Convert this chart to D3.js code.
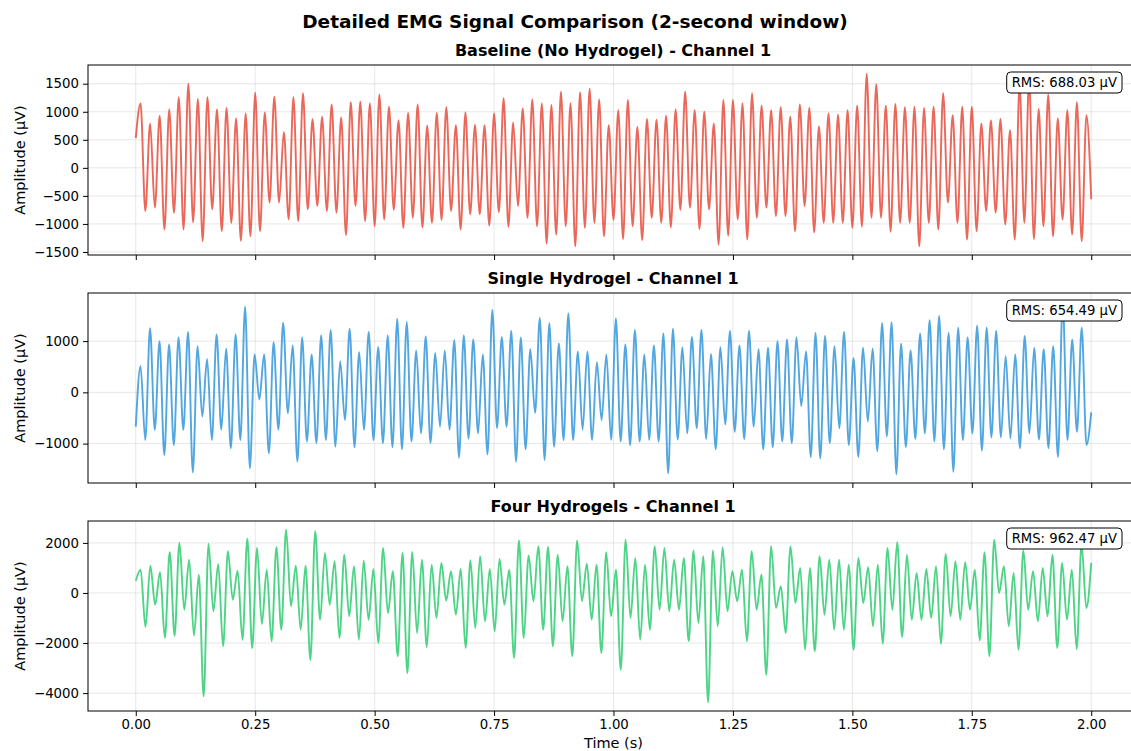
<!DOCTYPE html>
<html>
<head>
<meta charset="utf-8">
<script src="https://cdn.jsdelivr.net/npm/d3@7"></script>
<style>
  body { margin: 0; background: #fff; }
  text { font-family: "DejaVu Sans", sans-serif; }
</style>
</head>
<body>
<div id="chart"></div>
<script>
// Signal extrema (µV), evenly spaced over the 2 s window
const baseline = [530,
  1150,-770, 790,-710, 930,-1100, 1040,-800, 1260,-1100, 1500,-970, 1230,-1310, 1260,-740,
  1040,-1130, 1070,-980, 880,-1300, 970,-1220, 1340,-1130, 990,-620, 1270,-620, 640,-920,
  1260,-950, 1330,-740, 870,-680, 910,-770, 1130,-800, 900,-1200, 1170,-680, 1180,-950, 1150,-1040,
  1310,-920, 1090,-750, 850,-1070, 980,-890, 1130,-1060, 750,-980, 980,-930, 1080,-770,
  760,-1100, 990,-830, 770,-830, 760,-1030, 970,-790, 1240,-1050, 810,-680, 1060,-890,
  1220,-1040, 1150,-1350, 1120,-1190, 1360,-1040, 1150,-1400, 1350,-1070, 1410,-980, 1220,-1220, 760,-930,
  1030,-1270, 1210,-1040, 730,-1290, 870,-890, 860,-980, 930,-1060, 1040,-750, 1360,-710,
  1030,-1090, 1000,-740, 790,-1370, 1210,-1210, 1210,-920, 1150,-1280, 1330,-890, 1110,-710,
  1030,-860, 1080,-860, 910,-1130, 1130,-680, 1070,-1150, 740,-980, 970,-980, 950,-980, 1030,-1070,
  1110,-1050, 1680,-890, 1490,-890, 1110,-1140, 1140,-980, 1080,-980, 1090,-1400, 1070,-980,
  1090,-1100, 1330,-620, 940,-980, 1090,-1280, 1090,-1130, 790,-770, 850,-800, 870,-1010,
  670,-1280, 1480,-980, 1570,-1270, 1050,-1040, 1310,-1220, 880,-920, 1030,-1190, 1170,-1310, 940,-560];

const singleHydrogel = [-670,
  510,-930, 1250,-730, 1000,-1220, 935,-1030, 1070,-730, 1180,-1560, 900,-470, 650,-930,
  1130,-730, 850,-1090, 1130,-930, 1670,-1480, 740,-140, 740,-1190, 980,-730, 1360,-410,
  915,-1350, 1070,-960, 740,-990, 1110,-930, 1220,-1060, 610,-540, 1240,-1070, 785,-730, 1180,-930,
  880,-990, 1110,-1070, 1430,-1110, 1370,-960, 820,-800, 1090,-990, 770,-670, 820,-730,
  1020,-1270, 1110,-900, 1030,-800, 740,-1210, 1610,-700, 1080,-670, 1200,-1350, 1070,-1110,
  840,-400, 1450,-1320, 1350,-1060, 955,-930, 1540,-930, 800,-730, 800,-930, 590,-540, 740,-930,
  1440,-960, 935,-1030, 1220,-960, 740,-930, 915,-960, 1150,-1580, 1240,-920, 880,-800,
  1080,-700, 1220,-910, 750,-1110, 880,-630, 1200,-770, 915,-910, 1200,-670, 840,-1110,
  870,-1070, 1000,-960, 1030,-990, 1070,-270, 800,-1260, 1160,-1290, 1100,-990, 900,-700, 1180,-1030,
  670,-1260, 870,-570, 850,-1150, 1350,-860, 1370,-1600, 950,-1070, 820,-910, 1150,-800,
  1410,-960, 1490,-1110, 1160,-1550, 1260,-930, 1070,-800, 1300,-1140, 1260,-880, 1200,-880,
  710,-900, 740,-1090, 1100,-800, 870,-920, 840,-1090, 900,-1260, 1770,-930, 1030,-770, 1260,-1030, -390];

const fourHydrogels = [490,
  930,-1360, 1090,-470, 830,-1800, 1640,-1710, 2000,-670, 1330,-1700, 730,-4130, 1970,-730,
  1160,-2130, 1670,-270, 890,-1870, 2170,-2200, 1800,-1240, 930,-1930, 1840,-1470, 2530,-530,
  1090,-1470, 1090,-2670, 2470,-1070, 1600,-470, 1270,-1800, 1530,-930, 1070,-1870, 1290,-1070, 960,-2000,
  1800,-800, 870,-2530, 1600,-3200, 1640,-1600, 1330,-2160, 1130,-1000, 1200,-300, 870,-870,
  960,-2200, 1310,-1400, 1470,-1130, 960,-1530, 1360,-470, 930,-2600, 2100,-1800, 1500,-330,
  1870,-1470, 1840,-2130, 1530,-1130, 1070,-2530, 2100,-330, 1170,-1070, 1130,-2400, 1630,-930, 930,-3070,
  2130,-1000, 1400,-1870, 1130,-1470, 1870,-670, 1800,-730, 1330,-670, 1400,-1930, 1700,-1200,
  1470,-4370, 1700,-1330, 1830,-730, 870,-330, 930,-1930, 1670,-670, 730,-3270, 1870,-600,
  270,-1600, 1870,-400, 1000,-2270, 1000,-2330, 1470,-870, 1330,-1470, 1330,-1470, 1130,-2270,
  1400,-400, 1030,-1330, 1130,-2030, 1800,-670, 2030,-1760, 1530,-1070, 800,-1070, 960,-1000,
  1070,-2030, 1560,-930, 1270,-1070, 1230,-670, 930,-1900, 1630,-2530, 2130,0, 1070,-1330,
  800,-2270, 1700,-670, 870,-1130, 1000,-930, 1530,-2200, 1200,-1070, 930,-2240, 1930,-600, 1200];

const panelTitles = ["Baseline (No Hydrogel) - Channel 1", "Single Hydrogel - Channel 1", "Four Hydrogels - Channel 1"];
const rmsLabels = ["RMS: 688.03 µV", "RMS: 654.49 µV", "RMS: 962.47 µV"];
const yTickSets = [
  [-1500, -1000, -500, 0, 500, 1000, 1500],
  [-1000, 0, 1000],
  [-4000, -2000, 0, 2000]
];
const xTicks = [0, 0.25, 0.5, 0.75, 1.0, 1.25, 1.5, 1.75, 2.0];
const duration = 2;

const signals = [baseline, singleHydrogel, fourHydrogels];
const colors = ["#e74c3c", "#3498db", "#2ecc71"];

// Figure layout
const W = 1131, H = 751;
const left = 88, plotW = 1051;
const panelTops = [65, 293, 521];
const plotH = 190;

const svg = d3.select("#chart")
  .append("svg")
  .attr("width", W)
  .attr("height", H);

svg.append("text")
  .attr("x", 575)
  .attr("y", 28)
  .attr("text-anchor", "middle")
  .style("font-size", "18.5px")
  .style("font-weight", "bold")
  .text("Detailed EMG Signal Comparison (2-second window)");

const x = d3.scaleLinear()
  .domain([-0.1, 2.1])
  .range([0, plotW]);

const minusFmt = d => d < 0 ? "\u2212" + Math.abs(d) : String(d);

signals.forEach((values, p) => {
  const data = values.map((v, i) => ({ t: i * duration / (values.length - 1), v: v }));
  const lo = d3.min(values), hi = d3.max(values);
  const pad = (hi - lo) * 0.05;

  const y = d3.scaleLinear()
    .domain([lo - pad, hi + pad])
    .range([plotH, 0]);

  const g = svg.append("g")
    .attr("transform", `translate(${left},${panelTops[p]})`);

  const clipId = "clip" + p;
  g.append("clipPath").attr("id", clipId)
    .append("rect").attr("width", plotW).attr("height", plotH);

  // Grid
  g.append("g")
    .selectAll("line.vg")
    .data(xTicks)
    .enter()
    .append("line")
    .attr("x1", d => x(d)).attr("x2", d => x(d))
    .attr("y1", 0).attr("y2", plotH)
    .attr("stroke", "#b0b0b0").attr("stroke-opacity", 0.3).attr("stroke-width", 1);

  g.append("g")
    .selectAll("line.hg")
    .data(yTickSets[p])
    .enter()
    .append("line")
    .attr("x1", 0).attr("x2", plotW)
    .attr("y1", d => y(d)).attr("y2", d => y(d))
    .attr("stroke", "#b0b0b0").attr("stroke-opacity", 0.3).attr("stroke-width", 1);

  // Signal
  const line = d3.line()
    .x(d => x(d.t))
    .y(d => y(d.v))
    .curve(d3.curveMonotoneX);

  g.append("path")
    .datum(data)
    .attr("clip-path", `url(#${clipId})`)
    .attr("fill", "none")
    .attr("stroke", colors[p])
    .attr("stroke-opacity", 0.85)
    .attr("stroke-width", 1.9)
    .attr("stroke-linejoin", "round")
    .attr("d", line);

  // Axes
  const yAxis = g.append("g")
    .call(d3.axisLeft(y).tickValues(yTickSets[p]).tickFormat(minusFmt).tickSize(5).tickPadding(4));
  yAxis.select(".domain").remove();
  yAxis.selectAll("text").style("font-size", "13.3px").style("font-family", "DejaVu Sans");

  const xAxis = g.append("g")
    .attr("transform", `translate(0,${plotH})`)
    .call(d3.axisBottom(x).tickValues(xTicks).tickFormat(p === 2 ? d3.format(".2f") : () => "").tickSize(5).tickPadding(4));
  xAxis.select(".domain").remove();
  xAxis.selectAll("text").style("font-size", "13.3px").style("font-family", "DejaVu Sans");

  g.append("rect")
    .attr("width", plotW)
    .attr("height", plotH)
    .attr("fill", "none")
    .attr("stroke", "#000")
    .attr("stroke-width", 1);

  // Titles and labels
  g.append("text")
    .attr("x", 525)
    .attr("y", -9)
    .attr("text-anchor", "middle")
    .style("font-size", "16px")
    .style("font-weight", "bold")
    .text(panelTitles[p]);

  g.append("text")
    .attr("transform", "rotate(-90)")
    .attr("x", -plotH / 2)
    .attr("y", -63)
    .attr("text-anchor", "middle")
    .style("font-size", "14.5px")
    .text("Amplitude (µV)");

  // RMS box
  const rms = g.append("g");
  const rmsText = rms.append("text")
    .attr("x", 1029)
    .attr("y", 22)
    .attr("text-anchor", "end")
    .style("font-size", "13.2px")
    .text(rmsLabels[p]);
  const bb = rmsText.node().getBBox();
  rms.insert("rect", "text")
    .attr("x", bb.x - 5)
    .attr("y", bb.y - 3)
    .attr("width", bb.width + 10)
    .attr("height", bb.height + 6)
    .attr("rx", 4)
    .attr("fill", "#fff")
    .attr("stroke", "#000")
    .attr("stroke-width", 1);

  if (p === 2) {
    g.append("text")
      .attr("x", x(1))
      .attr("y", plotH + 37)
      .attr("text-anchor", "middle")
      .style("font-size", "14.5px")
      .text("Time (s)");
  }
});
</script>
</body>
</html>
